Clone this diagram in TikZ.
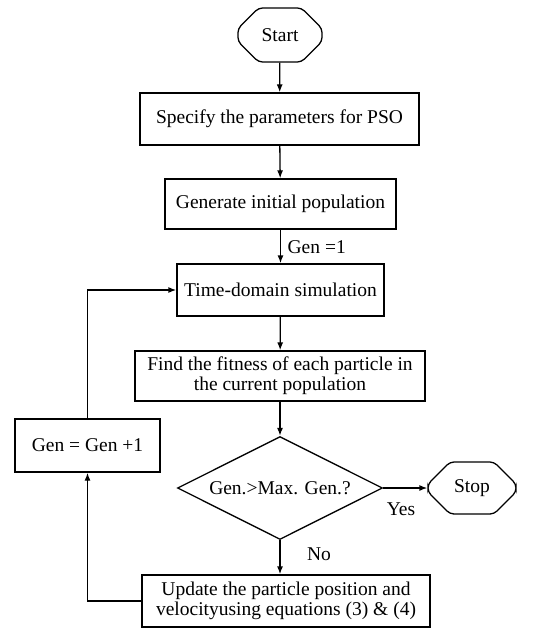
\documentclass[tikz,border=0pt]{standalone}
\usepackage{fontspec}
\setmainfont{Liberation Serif}
\usetikzlibrary{shapes.geometric,shapes.misc,arrows.meta}
\begin{document}
\begin{tikzpicture}[x=1pt,y=-1pt,
  font=\fontsize{19.5}{20}\selectfont,
  line width=1.3pt,
  box/.style={draw, rectangle, inner sep=2pt, align=center},
  term/.style={draw, chamfered rectangle, chamfered rectangle xsep=10pt, chamfered rectangle ysep=12pt, inner sep=2pt, rounded corners=4pt},
  dec/.style={draw, diamond, aspect=2, inner sep=0pt, minimum width=205pt, minimum height=103pt},
  arr/.style={-{Latex[length=8pt,width=6pt]}},
  lbl/.style={inner sep=1pt}]
\useasboundingbox (0,0) rectangle (544,629);
\node[term, minimum width=84pt, minimum height=54pt] (start) at (280,35) {Start};
\node[box, minimum width=279pt, minimum height=52pt] (spec) at (279.5,119) {Specify the parameters for PSO};
\node[box, minimum width=231pt, minimum height=50pt] (gen) at (280.5,204) {Generate initial population};
\node[box, minimum width=207pt, minimum height=52pt] (time) at (280.5,290) {Time-domain simulation};
\node[box, minimum width=290pt, minimum height=50pt] (fit) at (280,376) {Find the fitness of each particle in\\the current population};
\node[dec] (dec) at (280,488) {Gen.>Max. Gen.?};
\node[term, minimum width=88pt, minimum height=52pt] (stop) at (472,488) {Stop};
\node[box, minimum width=288pt, minimum height=52pt] (upd) at (286,601) {Update the particle position and\\velocityusing equations (3) \& (4)};
\node[box, minimum width=145pt, minimum height=53pt] (inc) at (87.5,445.5) {Gen = Gen +1};
\node[lbl, anchor=west] (g1) at (286,247) {Gen =1};
\node[lbl] (yes) at (401,509) {Yes};
\node[lbl] (no) at (319,554) {No};
\draw[arr] (start) -- (spec);
\draw[arr] (spec) -- (gen);
\draw[arr] (gen) -- (time);
\draw[arr] (time) -- (fit);
\draw[arr] (fit) -- (dec);
\draw[arr] (dec.east) -- (stop.west);
\draw[arr] (dec.south) -- (dec.south |- upd.north);
\draw[arr] (upd.west) -| (inc.south);
\draw[arr] (inc.north) |- (time.west);
\end{tikzpicture}
\end{document}
